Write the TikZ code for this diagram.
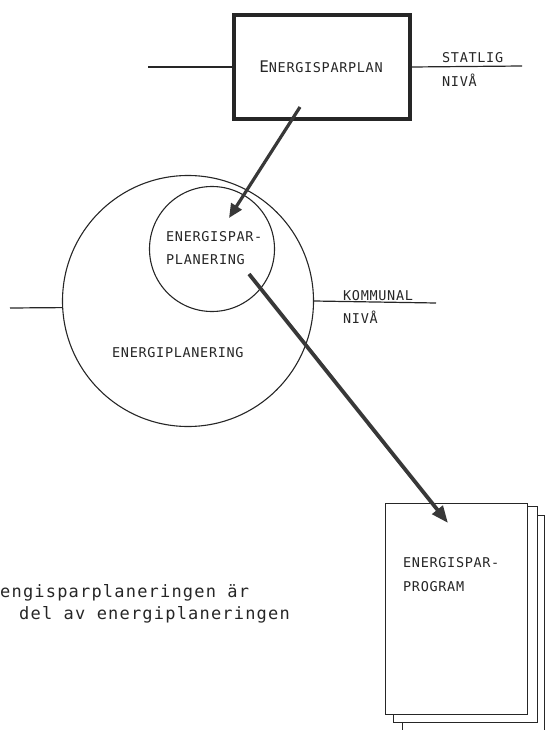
\documentclass[tikz,border=0pt]{standalone}
\usepackage{fontspec}
\newfontfamily\skriv[LetterSpace=5]{DejaVu Sans Mono}
\newfontfamily\skrivstor[LetterSpace=7]{DejaVu Sans Mono}
\newcommand\etikett{\skriv\fontsize{13.5}{16}\selectfont}
\newcommand\brodtext{\skrivstor\fontsize{17}{21}\selectfont}
\usetikzlibrary{arrows.meta}

\begin{document}
\begin{tikzpicture}[
      x=1pt, y=-1pt,
      every node/.style={font=\etikett, text=black!85, inner sep=0pt},
      ram/.style={draw=black!85, line width=3.6pt, minimum width=176pt, minimum height=104pt},
      ring/.style={draw=black!85, line width=1.1pt, circle},
      niva/.style={draw=black!85, line width=1.2pt},
      pil/.style={draw=black!78, line width=3.2pt, -{Triangle[length=14pt, width=12pt]}},
      blad/.style={draw=black!85, line width=1pt, fill=white}
    ]
    \useasboundingbox (0,0) rectangle (545,730);

    % Statlig nivå: ramen med energisparplanen
    \node[ram] (plan) at (322,67) {};
    \node (plantext) at (321,67) {{\fontsize{16}{18}\selectfont E}NERGISPARPLAN};
    \coordinate (sv) at (148,67);
    \coordinate (so) at (522,66);
    \draw[niva] (sv) -- (plan.west);
    \draw[niva] (plan.east) -- (so);
    \node[anchor=base west] (statlig) at (442,63) {STATLIG};
    \node[anchor=base west] (niva1) at (442,87) {NIVÅ};

    % Kommunal nivå: energiplanering med energisparplanering inuti
    \node[ring, minimum size=251pt] (energi) at (188,301) {};
    \node[ring, minimum size=125pt] (spar) at (212,249) {};
    \node[anchor=base west] (spartext) at (166,241) {ENERGISPAR-};
    \node[anchor=base west] (spartext2) at (166,264) {PLANERING};
    \node[anchor=base west] (energitext) at (112,357) {ENERGIPLANERING};
    \coordinate (kv) at (10,308);
    \coordinate (ko) at (436,303);
    \draw[niva] (kv) -- (energi.183);
    \draw[niva] (energi.-0.5) -- (ko);
    \node[anchor=base west] (kommunal) at (343,300) {KOMMUNAL};
    \node[anchor=base west] (niva2) at (343,323) {NIVÅ};

    % Programmet, tre blad
    \draw[blad] (402,515) rectangle (544,740);
    \draw[blad] (393,506) rectangle (537,722);
    \node[blad, minimum width=142pt, minimum height=211pt] (prog) at (456.5,609) {};
    \node[anchor=base west] (progtext) at (403,567) {ENERGISPAR-};
    \node[anchor=base west] (progtext2) at (403,591) {PROGRAM};

    % Pilar
    \coordinate (p1) at (300,107);
    \coordinate (p2) at (229,218);
    \coordinate (p3) at (249,274);
    \coordinate (p4) at (448,523);
    \draw[pil] (p1) -- (p2);
    \draw[pil, line width=3.8pt, -{Triangle[length=17pt, width=13pt]}] (p3) -- (p4);

    % Förklaring
    \node[anchor=base west, font=\brodtext] (rad1) at (0,597) {engisparplaneringen är};
    \node[anchor=base west, font=\brodtext] (rad2) at (19,619) {del av energiplaneringen};
  \end{tikzpicture}
\end{document}
